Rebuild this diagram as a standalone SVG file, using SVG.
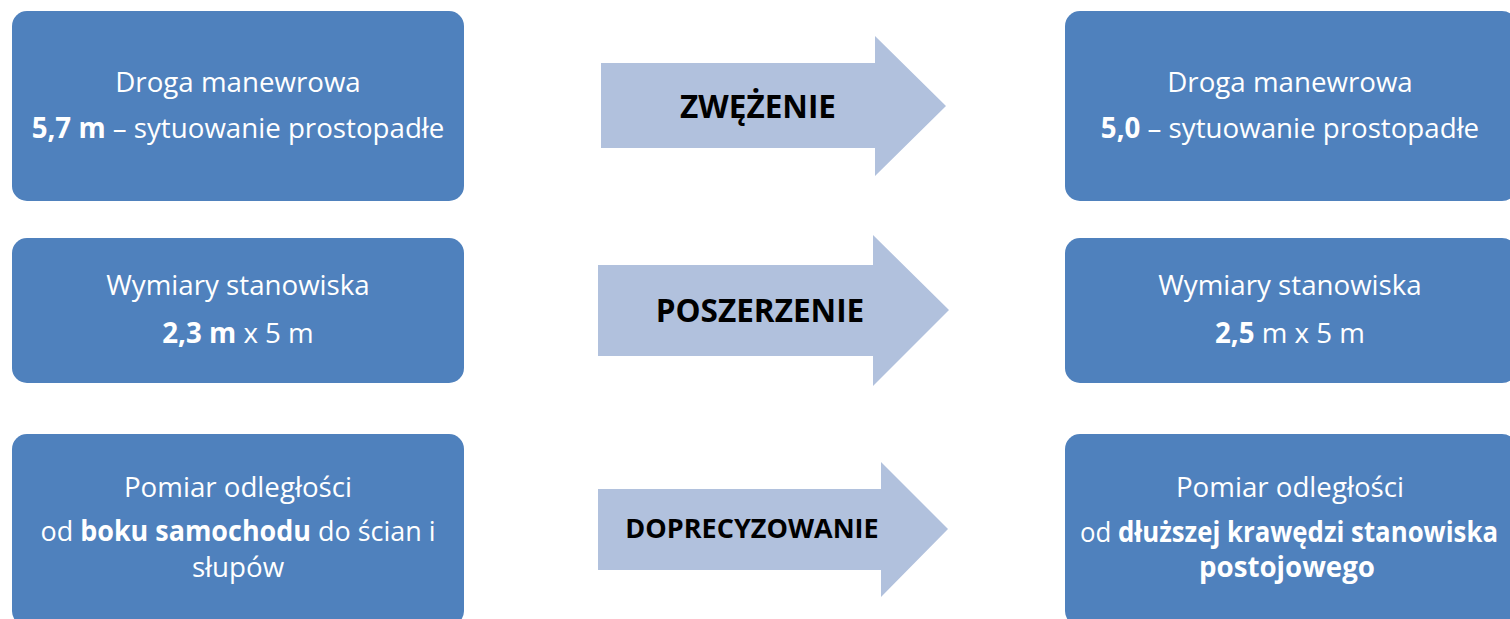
<svg xmlns="http://www.w3.org/2000/svg" width="1510" height="619" viewBox="0 0 1510 619">
<style>
.box{fill:#4F81BD}
.arr{fill:#B1C1DD}
.t{font-family:"Open Sans","Liberation Sans",sans-serif;font-size:27.7px;fill:#fff;text-anchor:middle}
.b{font-weight:bold}
.al{font-family:"Open Sans","Liberation Sans",sans-serif;font-weight:bold;fill:#000;text-anchor:middle}
</style>
<rect width="1510" height="619" fill="#fff"/>
<g id="connectors">
<g id="arrow1"><polygon class="arr" points="601,63 875,63 875,36 946,106 875,176 875,148 601,148"/><text class="al" x="758" y="118" font-size="31.5">ZWĘŻENIE</text></g>
<g id="arrow2"><polygon class="arr" points="598,265 873,265 873,235 949,310 873,386 873,356 598,356"/><text class="al" x="760" y="322" font-size="31.5">POSZERZENIE</text></g>
<g id="arrow3"><polygon class="arr" points="598,489 881,489 881,462 948,529 881,597 881,570 598,570"/><text class="al" x="752" y="538" font-size="27">DOPRECYZOWANIE</text></g>
</g>
<g id="n1"><rect class="box" x="12" y="11" width="452" height="190" rx="15"/>
<text class="t" x="238" y="92">Droga manewrowa</text>
<text class="t" x="238" y="138"><tspan class="b">5,7 m</tspan> – sytuowanie prostopadłe</text></g>
<g id="n2"><rect class="box" x="12" y="238" width="452" height="145" rx="15"/>
<text class="t" x="238" y="295">Wymiary stanowiska</text>
<text class="t" x="238" y="343"><tspan class="b">2,3 m</tspan> x 5 m</text></g>
<g id="n3"><rect class="box" x="12" y="434" width="452" height="192" rx="15"/>
<text class="t" x="238" y="497">Pomiar odległości</text>
<text class="t" x="238" y="541" textLength="395" lengthAdjust="spacingAndGlyphs">od <tspan class="b">boku samochodu</tspan> do ścian i</text>
<text class="t" x="238" y="577">słupów</text></g>
<g id="n4"><rect class="box" x="1065" y="11" width="452" height="190" rx="15"/>
<text class="t" x="1290" y="92">Droga manewrowa</text>
<text class="t" x="1290" y="138"><tspan class="b">5,0</tspan> – sytuowanie prostopadłe</text></g>
<g id="n5"><rect class="box" x="1065" y="238" width="452" height="145" rx="15"/>
<text class="t" x="1290" y="295">Wymiary stanowiska</text>
<text class="t" x="1290" y="343"><tspan class="b">2,5</tspan> m x 5 m</text></g>
<g id="n6"><rect class="box" x="1065" y="434" width="452" height="192" rx="15"/>
<text class="t" x="1290" y="497">Pomiar odległości</text>
<text class="t" x="1289" y="542" textLength="418" lengthAdjust="spacingAndGlyphs">od <tspan class="b">dłuższej krawędzi stanowiska</tspan></text>
<text class="t b" x="1287" y="577">postojowego</text></g>
</svg>
